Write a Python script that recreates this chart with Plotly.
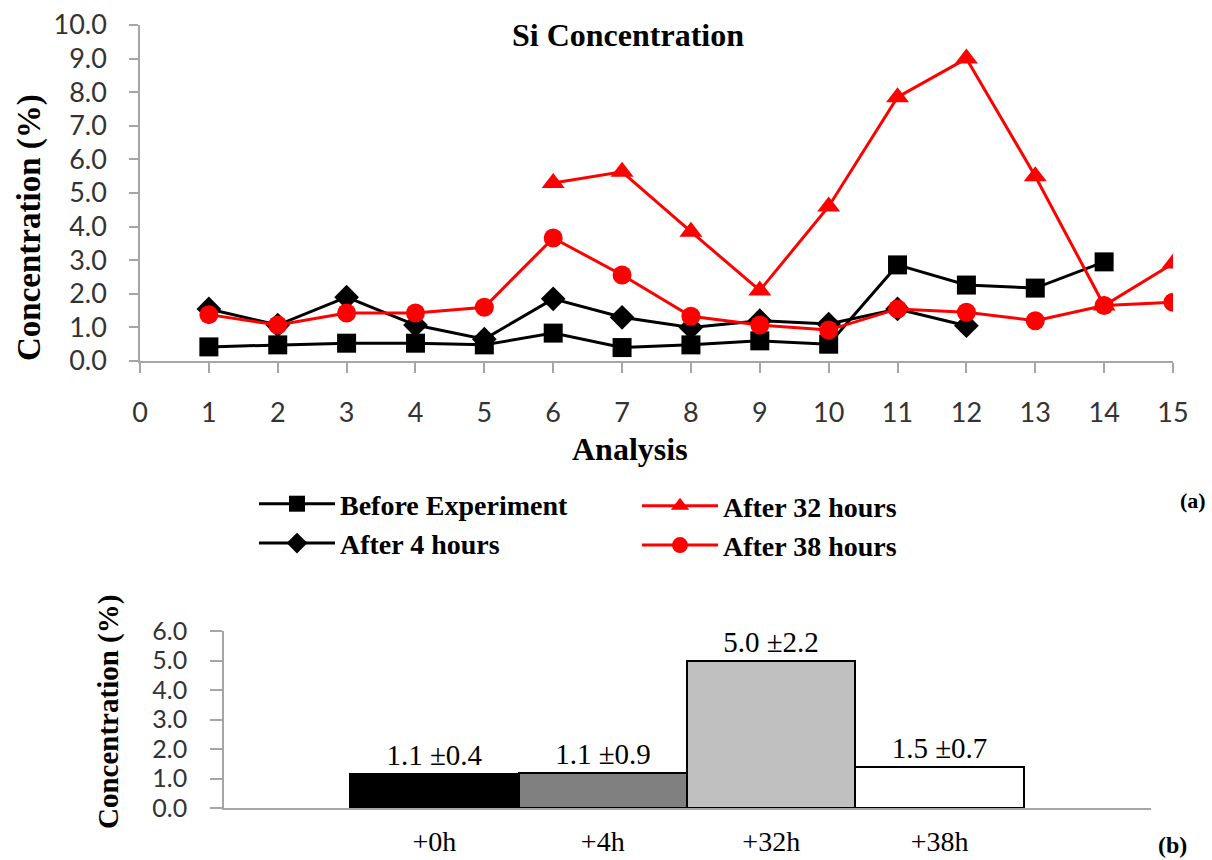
import plotly.graph_objects as go

# ---------------- data ----------------
analysis = list(range(1, 16))
before_exp = [0.42, 0.48, 0.53, 0.53, 0.48, 0.83, 0.40, 0.48, 0.60, 0.50, 2.86, 2.26, 2.17, 2.95, None]
after_4h = [1.55, 1.07, 1.90, 1.07, 0.65, 1.85, 1.30, 1.00, 1.20, 1.10, 1.55, 1.05, None, None, None]
after_32h = [None, None, None, None, None, 5.30, 5.63, 3.85, 2.10, 4.60, 7.85, 9.00, 5.50, 1.65, 2.90]
after_38h = [1.38, 1.07, 1.43, 1.43, 1.60, 3.66, 2.56, 1.33, 1.07, 0.92, 1.55, 1.45, 1.20, 1.65, 1.75]

bar_categories = ["+0h", "+4h", "+32h", "+38h"]
bar_positions = [1, 2, 3, 4]
bar_heights = [1.15, 1.2, 5.0, 1.4]
bar_labels = ["1.1 \u00b10.4", "1.1 \u00b10.9", "5.0 \u00b12.2", "1.5 \u00b10.7"]
bar_colors = ["#000000", "#808080", "#c0c0c0", "#ffffff"]

top_yticks = [i * 1.0 for i in range(11)]
bot_yticks = [i * 1.0 for i in range(7)]

W, H = 1212, 860
def px(x):
    return x / W
def py(y):
    return 1 - y / H

SERIF = "Liberation Serif"
SANS = "Lato"
AXC = "#a6a6a6"
TXC = "#333333"

fig = go.Figure()

series = [
    ("Before Experiment", before_exp, "black", "square", 19, "legend", "g0"),
    ("After 4 hours", after_4h, "black", "diamond", 19, "legend", "g1"),
    ("After 32 hours", after_32h, "#ff0000", "triangle-up", 20, "legend2", "g2"),
    ("After 38 hours", after_38h, "#ff0000", "circle", 19, "legend2", "g3"),
]
for name, vals, col, sym, size, leg, grp in series:
    fig.add_trace(go.Scatter(
        x=analysis, y=vals, name=name, mode="lines+markers",
        line=dict(color=col, width=3),
        marker=dict(symbol=sym, size=size, color=col),
        connectgaps=False, legend=leg, legendgroup=grp,
        xaxis="x", yaxis="y",
    ))

fig.add_trace(go.Bar(
    x=bar_positions, y=bar_heights, width=1.0,
    marker=dict(color=bar_colors, line=dict(color="black", width=2)),
    text=bar_labels, textposition="outside", cliponaxis=False,
    textfont=dict(family=SERIF, size=29, color="black"),
    showlegend=False, xaxis="x2", yaxis="y2",
))

legend_font = dict(family=SERIF, size=28, color="black", weight="bold")

fig.update_layout(
    width=W, height=H,
    margin=dict(l=0, r=0, t=0, b=0),
    paper_bgcolor="white", plot_bgcolor="white",
    showlegend=True,
    legend=dict(
        orientation="v", x=px(254), y=py(479), xanchor="left", yanchor="top",
        itemwidth=76, font=legend_font, tracegroupgap=1,
        bgcolor="rgba(0,0,0,0)", traceorder="normal",
    ),
    legend2=dict(
        orientation="v", x=px(637), y=py(481), xanchor="left", yanchor="top",
        itemwidth=76, font=legend_font, tracegroupgap=16,
        bgcolor="rgba(0,0,0,0)", traceorder="normal",
    ),
    xaxis=dict(
        domain=[px(140), px(1173)], range=[0, 15], anchor="y", automargin=False,
        tickvals=list(range(0, 16)), showgrid=False, zeroline=False,
        showline=True, linecolor=AXC, linewidth=1.5,
        ticks="outside", ticklen=10, tickcolor=AXC, tickwidth=1.5,
        ticklabelstandoff=17,
        tickfont=dict(family=SANS, size=27, color=TXC),
    ),
    yaxis=dict(
        domain=[py(361), py(25)], range=[0, 10], anchor="x", automargin=False,
        tickvals=top_yticks, tickformat=".1f", showgrid=False, zeroline=False,
        showline=True, linecolor=AXC, linewidth=1.5,
        ticks="outside", ticklen=9, tickcolor=AXC, tickwidth=1.5,
        ticklabelstandoff=17,
        tickfont=dict(family=SANS, size=27, color=TXC),
    ),
    xaxis2=dict(
        domain=[px(224), px(1151)], range=[-0.248, 5.254], anchor="y2", automargin=False,
        tickvals=bar_positions, ticktext=bar_categories, showgrid=False, zeroline=False,
        showline=True, linecolor=AXC, linewidth=1.5, ticks="",
        ticklabelstandoff=8,
        tickfont=dict(family=SERIF, size=28, color="black"),
    ),
    yaxis2=dict(
        domain=[py(808), py(631)], range=[0, 6], anchor="x2", automargin=False,
        tickvals=bot_yticks, tickformat=".1f", showgrid=False, zeroline=False,
        showline=True, linecolor=AXC, linewidth=1.5,
        ticks="outside", ticklen=12, tickcolor=AXC, tickwidth=1.5,
        ticklabelstandoff=18,
        tickfont=dict(family=SANS, size=25, color=TXC),
    ),
    bargap=0,
    annotations=[
        dict(text="<b>Si Concentration</b>", x=px(628), y=py(35), xref="paper", yref="paper",
             xanchor="center", yanchor="middle",
             showarrow=False, font=dict(family=SERIF, size=32, color="black")),
        dict(text="<b>Analysis</b>", x=px(630), y=py(449), xref="paper", yref="paper",
             xanchor="center", yanchor="middle",
             showarrow=False, font=dict(family=SERIF, size=32, color="black")),
        dict(text="<b>Concentration (%)</b>", x=px(30), y=py(228), xref="paper", yref="paper",
             xanchor="center", yanchor="middle",
             showarrow=False, textangle=-90, font=dict(family=SERIF, size=33, color="black")),
        dict(text="<b>(a)</b>", x=px(1193), y=py(500), xref="paper", yref="paper",
             xanchor="center", yanchor="middle",
             showarrow=False, font=dict(family=SERIF, size=22, color="black")),
        dict(text="<b>Concentration (%)</b>", x=px(108), y=py(712), xref="paper", yref="paper",
             xanchor="center", yanchor="middle",
             showarrow=False, textangle=-90, font=dict(family=SERIF, size=29, color="black")),
        dict(text="<b>(b)</b>", x=px(1172), y=py(845), xref="paper", yref="paper",
             xanchor="center", yanchor="middle",
             showarrow=False, font=dict(family=SERIF, size=24, color="black")),
    ],
)

fig.write_html("out.html")
